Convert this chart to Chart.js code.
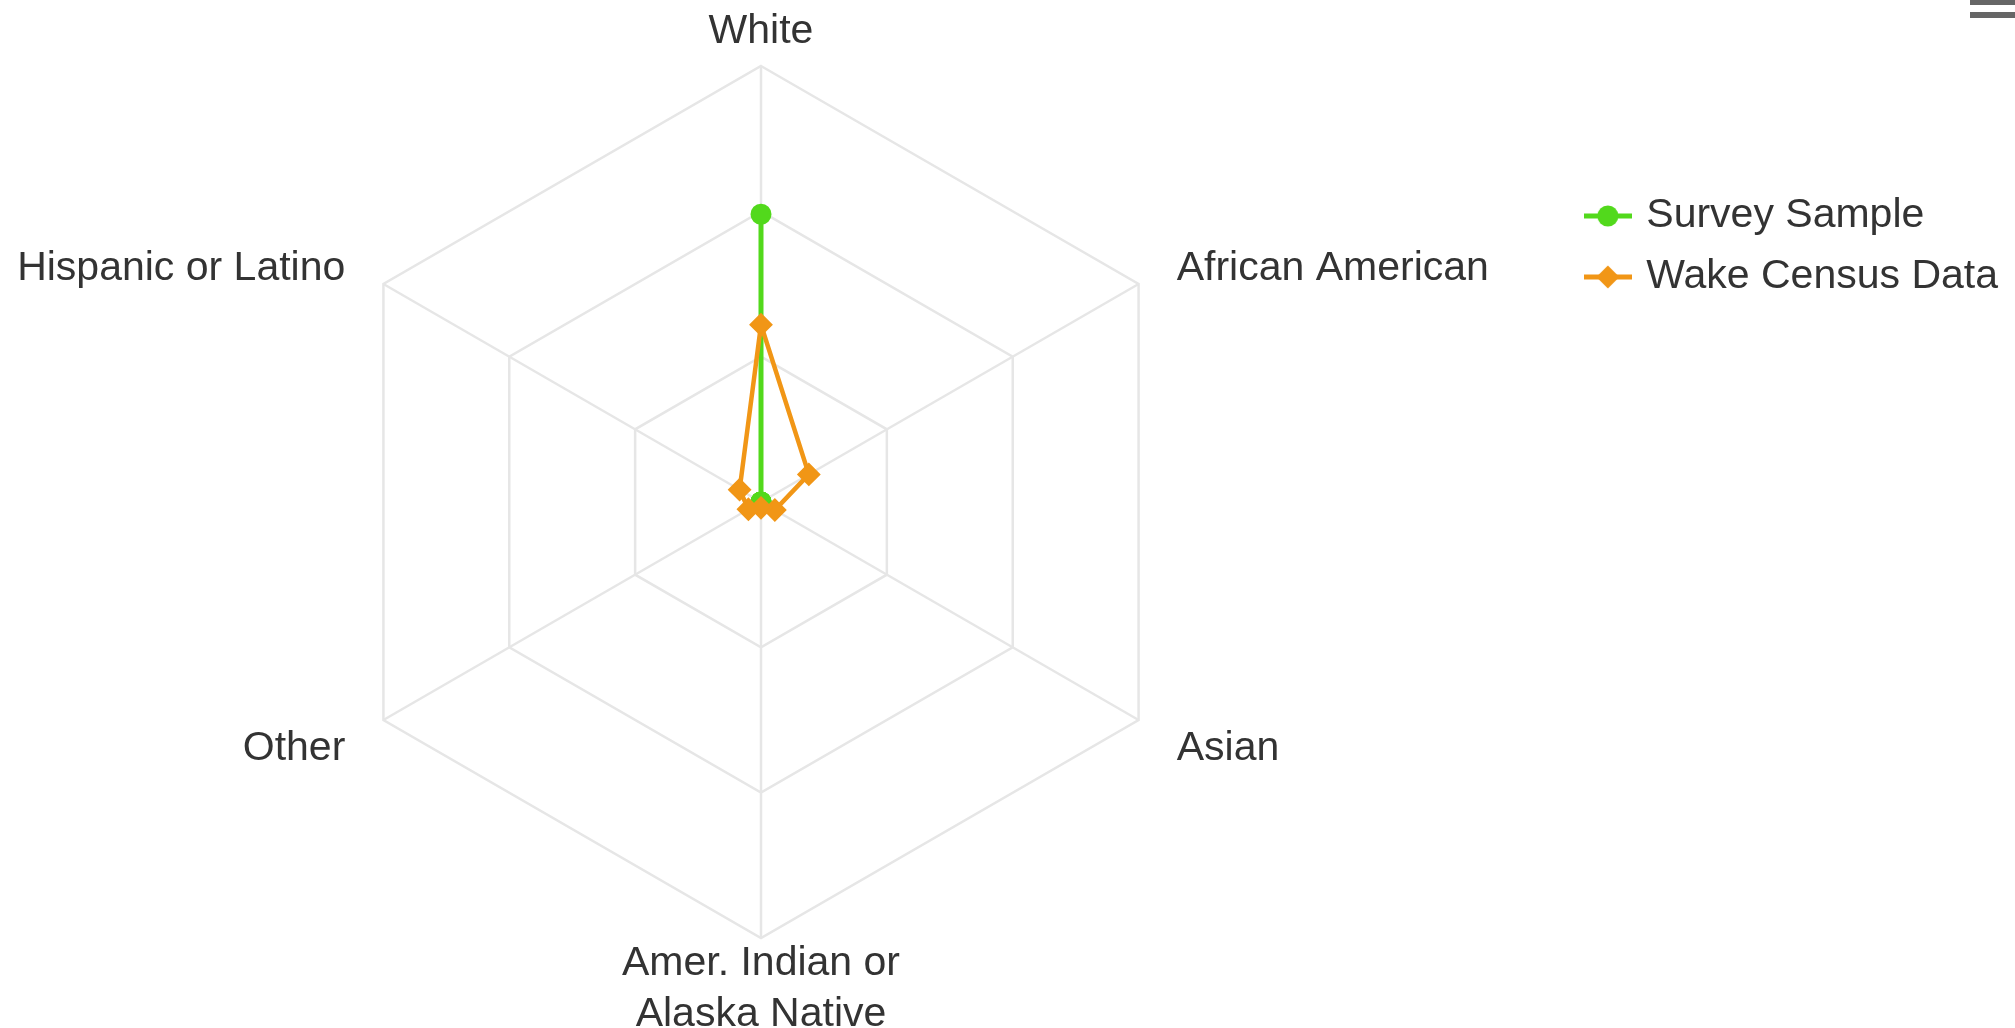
<!DOCTYPE html>
<html>
<head>
<meta charset="utf-8">
<script src="https://cdn.jsdelivr.net/npm/chart.js@4"></script>
<style>
  body { margin: 0; background: #fff; }
  #wrap { position: relative; width: 2015px; height: 1028px; overflow: hidden; }
  /* el lienzo empieza un poco a la izquierda para que el radar quede donde esta en la imagen */
  #lienzo { position: absolute; left: -46px; top: 0; width: 2061px; height: 1028px; }
  .menuBar { position: absolute; left: 1970px; width: 45px; background: #666; }
</style>
</head>
<body>
<div id="wrap">
  <div id="lienzo"><canvas id="graficaRaza"></canvas></div>
  <div class="menuBar" style="top:0;height:5px"></div>
  <div class="menuBar" style="top:12px;height:6px"></div>
</div>
<script>
// categorias (en el orden de las agujas del reloj desde arriba)
const categorias = ["White", "African American", "Asian", ["Amer. Indian or", "Alaska Native"], "Other", "Hispanic or Latino"];
const muestraEncuesta = [99, 0, 0, 0, 0, 0];
const censoWake = [61, 19, 5.5, 2, 5, 8.5];
const nombresSeries = ["Survey Sample", "Wake Census Data"];
const escalaMax = 150;
const escalaPaso = 50;

const verde = "#52d91c";
const naranja = "#f19616";

// simbolo de leyenda: linea + marcador
function simbolo(color, forma) {
  const c = document.createElement("canvas");
  c.width = 48;
  c.height = 24;
  const g = c.getContext("2d");
  g.strokeStyle = color;
  g.fillStyle = color;
  g.lineWidth = 5;
  g.beginPath();
  g.moveTo(0, 12);
  g.lineTo(48, 12);
  g.stroke();
  g.beginPath();
  if (forma === "circle") {
    g.arc(24, 12, 10.5, 0, Math.PI * 2);
  } else {
    g.moveTo(24, 0.5);
    g.lineTo(35.5, 12);
    g.lineTo(24, 23.5);
    g.lineTo(12.5, 12);
    g.closePath();
  }
  g.fill();
  return c;
}

// etiquetas de los ejes, estilo highcharts
const etiquetasPlugin = {
  id: "etiquetas",
  afterDraw(chart) {
    const scale = chart.scales.r;
    const ctx = chart.ctx;
    ctx.save();
    ctx.font = "41px 'Liberation Sans', Arial, sans-serif";
    ctx.fillStyle = "#333";
    ctx.textBaseline = "middle";
    categorias.forEach((lab, i) => {
      const p = scale.getPointPosition(i, scale.drawingArea + 44);
      const lineas = Array.isArray(lab) ? lab : [lab];
      if (p.x > scale.xCenter + 1) ctx.textAlign = "left";
      else if (p.x < scale.xCenter - 1) ctx.textAlign = "right";
      else ctx.textAlign = "center";
      const alto = 51;
      const ajuste = i === 0 ? 10 : 7;
      const y0 = p.y + ajuste - (lineas.length - 1) * alto / 2;
      lineas.forEach((t, k) => ctx.fillText(t, p.x, y0 + k * alto));
    });
    ctx.restore();
  }
};

const ctx = document.getElementById("graficaRaza").getContext("2d");
new Chart(ctx, {
  type: "radar",
  data: {
    labels: categorias,
    datasets: [{
      label: nombresSeries[0],
      data: muestraEncuesta,
      borderColor: verde,
      backgroundColor: verde,
      borderWidth: 5,
      fill: false,
      pointStyle: "circle",
      pointRadius: 9.5,
      pointBorderWidth: 2,
      pointBackgroundColor: verde,
      pointBorderColor: verde,
      order: 1
    }, {
      label: nombresSeries[1],
      data: censoWake,
      borderColor: naranja,
      backgroundColor: naranja,
      borderWidth: 4.5,
      fill: false,
      pointStyle: "rectRot",
      pointRadius: 10.5,
      pointBorderWidth: 2,
      pointBackgroundColor: naranja,
      pointBorderColor: naranja,
      order: 0
    }]
  },
  options: {
    responsive: true,
    maintainAspectRatio: false,
    animation: false,
    layout: {
      padding: { left: 0, right: 7, top: 66, bottom: 90 }
    },
    plugins: {
      tooltip: { enabled: false },
      legend: {
        position: "right",
        align: "start",
        title: {
          display: true,
          text: " ",
          font: { size: 10 },
          padding: { top: 0, bottom: 97.5 }
        },
        labels: {
          font: { size: 41, family: "'Liberation Sans', Arial, sans-serif" },
          color: "#333",
          padding: 20,
          usePointStyle: true,
          pointStyleWidth: 36,
          generateLabels: chart => chart.data.datasets.map((ds, i) => ({
            text: ds.label,
            datasetIndex: i,
            hidden: false,
            fontColor: "#333",
            lineWidth: 0,
            pointStyle: simbolo(ds.borderColor, ds.pointStyle)
          }))
        }
      }
    },
    scales: {
      r: {
        min: 0,
        max: escalaMax,
        ticks: { display: false, stepSize: escalaPaso },
        pointLabels: { display: false },
        grid: { circular: false, color: "#e6e6e6", lineWidth: 2.5 },
        angleLines: { color: "#e6e6e6", lineWidth: 2.5 }
      }
    }
  },
  plugins: [etiquetasPlugin]
});
</script>
</body>
</html>
